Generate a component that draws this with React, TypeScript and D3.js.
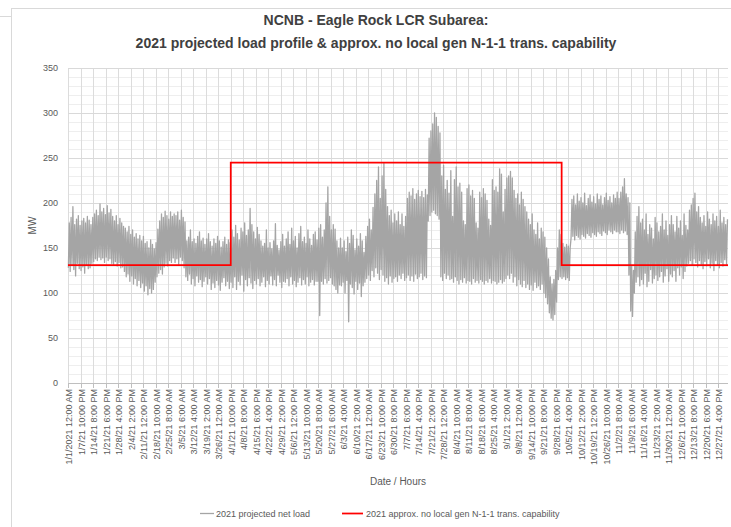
import React, { useEffect, useRef } from 'react';
import * as d3 from 'd3';

// Daily peak / trough of the hourly net load (MW)
const janHigh = [178,184,196,176,182,186,175,180,183,178,185,181,176,184,188,192,186,199,190,194,187,197,189,193,185,180,186,176,183,178,174];
const janLow = [128,124,131,126,119,133,127,125,129,122,131,127,128,133,135,138,136,140,137,139,134,140,136,138,133,132,135,130,134,128,129];
const febHigh = [172,168,174,165,170,162,166,160,164,158,163,155,157,150,159,154,149,156,171,180,188,184,191,186,182,190,185,188];
const febLow = [124,118,121,113,119,110,116,108,114,106,111,102,108,98,105,100,104,112,118,122,126,121,129,133,130,136,134,139];
const marHigh = [186,190,181,192,184,179,158,162,170,157,160,155,163,168,158,161,154,160,166,157,152,160,155,163,158,151,157,162,154,159,156];
const marLow = [134,138,132,140,136,128,118,114,121,110,116,108,119,112,115,107,113,118,110,116,104,111,106,114,109,103,112,117,108,113,105];
const aprHigh = [170,162,175,166,159,172,168,178,164,170,194,176,168,160,173,165,158,152,155,170,150,156,149,158,177,153,148,157,165,152];
const aprLow = [112,106,118,104,113,109,120,102,115,108,117,111,105,114,110,116,108,112,118,107,114,110,119,109,115,108,120,112,106,113];
const mayHigh = [160,168,154,172,158,163,150,166,174,157,162,155,170,160,153,165,168,159,172,176,162,170,200,218,185,170,176,171,158,150,161];
const mayLow = [112,116,108,118,110,114,107,112,117,109,115,110,118,108,112,115,109,113,113,75,113,110,116,111,114,117,110,108,104,100,109];
const junHigh = [150,158,146,162,155,170,164,148,160,152,166,158,145,163,174,182,170,195,210,225,240,205,230,244,215,196,186,192,178,188];
const junLow = [108,112,100,114,68,110,106,99,113,104,111,96,108,112,116,120,114,125,118,128,122,115,126,120,113,117,110,119,112,116];
const julHigh = [180,190,176,188,174,185,205,212,208,216,204,210,214,207,213,206,215,209,272,280,288,300,295,285,278,230,242,215,225,211,236];
const julLow = [118,113,120,116,122,114,117,120,114,119,113,121,116,118,122,115,119,117,180,186,190,192,188,186,182,118,114,122,116,120,115];
const augHigh = [185,226,240,218,222,212,180,176,216,220,208,214,205,178,172,212,206,216,210,203,182,175,226,214,218,212,238,232,190,215,228];
const augLow = [116,112,118,114,110,115,112,117,111,114,113,110,116,112,114,111,115,113,110,114,112,116,111,114,113,110,112,115,111,113,116];
const sepHigh = [230,235,228,214,205,210,198,212,204,196,190,182,176,188,170,165,178,160,172,168,162,150,138,118,110,115,125,150,170,165];
const sepLow = [120,116,122,112,118,108,115,110,107,114,106,110,104,109,103,112,106,108,104,110,100,95,88,78,72,70,76,90,115,118];
const octHigh = [155,151,154,152,150,204,208,198,210,202,206,200,211,197,205,209,201,207,199,210,204,208,198,206,211,203,207,200,209,205,212];
const octLow = [116,118,115,117,114,161,163,159,164,162,160,165,163,161,166,164,162,167,165,163,168,166,164,169,167,165,170,168,166,170,168];
const novHigh = [205,212,218,227,210,206,200,130,125,168,185,196,178,182,170,188,165,176,172,160,184,178,168,174,188,170,180,164,176,186];
const novLow = [168,166,170,167,169,165,120,80,74,100,112,118,108,115,110,122,107,113,126,111,116,120,114,118,124,112,119,127,113,121];
const decHigh = [176,168,185,172,180,164,188,175,170,192,198,205,211,190,196,184,178,186,174,190,182,176,188,180,185,174,192,178,184,176,182];
const decLow = [118,125,113,128,120,129,116,124,130,133,136,131,138,134,129,136,132,127,135,130,138,128,133,125,136,131,128,134,130,137,132];

// Transmission capability steps: hour of year where each level starts (MW)
const capabilityHours = [0, 2160, 6552, 8760];
const capabilityMW = [131, 245, 131, 131];

// Category axis labels (one every 166 hours)
const tickLabels = [
  "1/1/2021 12:00 AM", "1/7/21 10:00 PM", "1/14/21 8:00 PM", "1/21/21 6:00 PM", "1/28/21 4:00 PM",
  "2/4/21 2:00 PM", "2/11/21 12:00 PM", "2/18/21 10:00 AM", "2/25/21 8:00 AM", "3/5/21 6:00 AM",
  "3/12/21 4:00 AM", "3/19/21 2:00 AM", "3/26/21 12:00 AM", "4/1/21 10:00 PM", "4/8/21 8:00 PM",
  "4/15/21 6:00 PM", "4/22/21 4:00 PM", "4/29/21 2:00 PM", "5/6/21 12:00 PM", "5/13/21 10:00 AM",
  "5/20/21 8:00 AM", "5/27/21 6:00 AM", "6/3/21 4:00 AM", "6/10/21 2:00 AM", "6/17/21 12:00 AM",
  "6/23/21 10:00 PM", "6/30/21 8:00 PM", "7/7/21 6:00 PM", "7/14/21 4:00 PM", "7/21/21 2:00 PM",
  "7/28/21 12:00 PM", "8/4/21 10:00 AM", "8/11/21 8:00 AM", "8/18/21 6:00 AM", "8/25/21 4:00 AM",
  "9/1/21 2:00 AM", "9/8/21 12:00 AM", "9/14/21 10:00 PM", "9/21/21 8:00 PM", "9/28/21 6:00 PM",
  "10/5/21 4:00 PM", "10/12/21 2:00 PM", "10/19/21 12:00 PM", "10/26/21 10:00 AM", "11/2/21 8:00 AM",
  "11/9/21 6:00 AM", "11/16/21 4:00 AM", "11/23/21 2:00 AM", "11/30/21 12:00 AM", "12/6/21 10:00 PM",
  "12/13/21 8:00 PM", "12/20/21 6:00 PM", "12/27/21 4:00 PM"
];
const labelStep = 166;
const yTicks = [0, 50, 100, 150, 200, 250, 300, 350];

const WIDTH = 731;
const HEIGHT = 527;
const FONT = "'Liberation Sans', Arial, sans-serif";

export default function App() {
  const svgRef = useRef<SVGSVGElement>(null);

  useEffect(() => {
    if (!svgRef.current) return;
    const svg = d3.select(svgRef.current);
    svg.selectAll("*").remove();

    const margin = { top: 68, right: 3, bottom: 144, left: 68 };
    const x0 = margin.left, x1 = WIDTH - margin.right;
    const y0 = HEIGHT - margin.bottom, y1 = margin.top;

    const x = d3.scaleLinear().domain([0, 8760]).range([x0, x1]);
    const y = d3.scaleLinear().domain([0, 350]).range([y0, y1]);

    const highs = [janHigh, febHigh, marHigh, aprHigh, mayHigh, junHigh, julHigh, augHigh, sepHigh, octHigh, novHigh, decHigh].flat();
    const lows = [janLow, febLow, marLow, aprLow, mayLow, junLow, julLow, augLow, sepLow, octLow, novLow, decLow].flat();

    // daily zig-zag: overnight trough then afternoon peak
    const loadPoints: [number, number][] = [];
    highs.forEach((h, d) => {
      loadPoints.push([d * 24 + 5, lows[d]]);
      loadPoints.push([d * 24 + 17, h]);
    });

    // chart frame
    svg.append("rect")
      .attr("x", 11.5).attr("y", 8.5)
      .attr("width", 800).attr("height", 600)
      .attr("fill", "#fff")
      .attr("stroke", "#d9d9d9");
    svg.append("line")
      .attr("x1", 0).attr("x2", 11).attr("y1", 16.5).attr("y2", 16.5)
      .attr("stroke", "#d9d9d9");

    // title
    const title = svg.append("text")
      .attr("text-anchor", "middle")
      .attr("font-family", FONT)
      .attr("font-size", 14)
      .attr("font-weight", "bold")
      .attr("fill", "#404040");
    title.append("tspan").attr("x", 376).attr("y", 25).text("NCNB - Eagle Rock LCR Subarea:");
    title.append("tspan").attr("x", 376).attr("y", 48).text("2021 projected load profile & approx. no local gen N-1-1 trans. capability");

    // minor + major horizontal grid
    svg.append("g")
      .selectAll("line")
      .data(d3.range(10, 351, 10).filter(v => v % 50 !== 0))
      .join("line")
      .attr("x1", x0).attr("x2", x1)
      .attr("y1", d => Math.round(y(d)) + 0.5).attr("y2", d => Math.round(y(d)) + 0.5)
      .attr("stroke", "#eeeeee");

    svg.append("g")
      .selectAll("line")
      .data(tickLabels)
      .join("line")
      .attr("x1", (_, i) => Math.round(x(i * labelStep)) + 0.5)
      .attr("x2", (_, i) => Math.round(x(i * labelStep)) + 0.5)
      .attr("y1", y1).attr("y2", y0)
      .attr("stroke", "#dcdcdc");

    svg.append("g")
      .selectAll("line")
      .data(yTicks.filter(v => v > 0))
      .join("line")
      .attr("x1", x0).attr("x2", x1)
      .attr("y1", d => Math.round(y(d)) + 0.5).attr("y2", d => Math.round(y(d)) + 0.5)
      .attr("stroke", "#d9d9d9");

    // x axis line and tick marks
    svg.append("line")
      .attr("x1", x0).attr("x2", x1)
      .attr("y1", Math.round(y0) + 0.5).attr("y2", Math.round(y0) + 0.5)
      .attr("stroke", "#bfbfbf");
    svg.append("g")
      .selectAll("line")
      .data(tickLabels)
      .join("line")
      .attr("x1", (_, i) => Math.round(x(i * labelStep)) + 0.5)
      .attr("x2", (_, i) => Math.round(x(i * labelStep)) + 0.5)
      .attr("y1", y0).attr("y2", y0 + 5)
      .attr("stroke", "#bfbfbf");

    // y tick labels
    svg.append("g")
      .selectAll("text")
      .data(yTicks)
      .join("text")
      .attr("x", 58)
      .attr("y", d => y(d))
      .attr("dy", "0.35em")
      .attr("text-anchor", "end")
      .attr("font-family", FONT)
      .attr("font-size", 9)
      .attr("fill", "#595959")
      .text(d => d);

    // x tick labels, rotated
    svg.append("g")
      .selectAll("text")
      .data(tickLabels)
      .join("text")
      .attr("transform", (_, i) => `translate(${x(i * labelStep) + 4}, ${y0 + 6}) rotate(-90)`)
      .attr("text-anchor", "end")
      .attr("font-family", FONT)
      .attr("font-size", 9)
      .attr("fill", "#595959")
      .text(d => d);

    // axis titles
    svg.append("text")
      .attr("transform", `translate(36, ${(y0 + y1) / 2}) rotate(-90)`)
      .attr("text-anchor", "middle")
      .attr("font-family", FONT)
      .attr("font-size", 10)
      .attr("fill", "#595959")
      .text("MW");
    svg.append("text")
      .attr("x", 398).attr("y", 485)
      .attr("text-anchor", "middle")
      .attr("font-family", FONT)
      .attr("font-size", 10)
      .attr("fill", "#595959")
      .text("Date / Hours");

    // net load series
    const line = d3.line<[number, number]>()
      .x(d => x(d[0]))
      .y(d => y(d[1]));
    svg.append("path")
      .datum(loadPoints)
      .attr("d", line)
      .attr("fill", "none")
      .attr("stroke", "#a5a5a5")
      .attr("stroke-width", 1.3)
      .attr("stroke-linejoin", "round");

    // capability step line
    const capLine = d3.line<number>()
      .x((_, i) => x(capabilityHours[i]))
      .y(d => y(d))
      .curve(d3.curveStepAfter);
    svg.append("path")
      .datum(capabilityMW)
      .attr("d", capLine)
      .attr("fill", "none")
      .attr("stroke", "#ff0000")
      .attr("stroke-width", 1.75);

    // legend
    const legend = svg.append("g").attr("font-family", FONT).attr("font-size", 9).attr("fill", "#595959");
    legend.append("line").attr("x1", 200).attr("x2", 214).attr("y1", 513.5).attr("y2", 513.5)
      .attr("stroke", "#a5a5a5").attr("stroke-width", 1.3);
    legend.append("text").attr("x", 216).attr("y", 516.5).text("2021 projected net load");
    legend.append("line").attr("x1", 342).attr("x2", 363).attr("y1", 513.5).attr("y2", 513.5)
      .attr("stroke", "#ff0000").attr("stroke-width", 1.75);
    legend.append("text").attr("x", 366).attr("y", 516.5).text("2021 approx. no local gen N-1-1 trans. capability");
  }, []);

  return (
    <svg ref={svgRef} width={WIDTH} height={HEIGHT}
      style={{ position: 'absolute', left: 0, top: 0, background: '#fff' }} />
  );
}
